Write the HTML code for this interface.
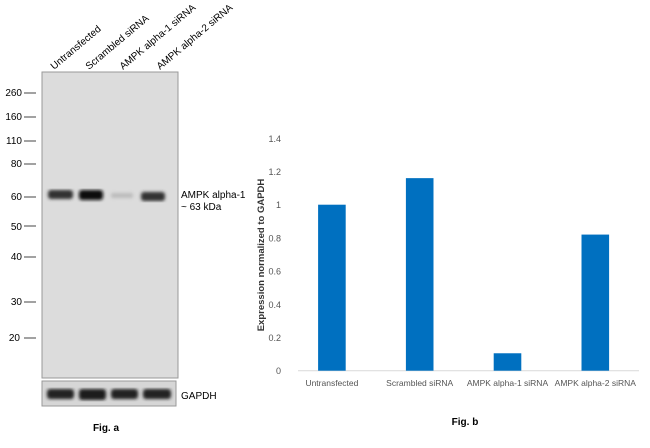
<!DOCTYPE html>
<html><head><meta charset="utf-8"><style>
body{margin:0;width:650px;height:448px;background:#fff;font-family:"Liberation Sans",sans-serif;position:relative;overflow:hidden}
.a{position:absolute}
</style></head><body>
<svg class="a" style="left:0;top:0" width="650" height="448">
<defs>
<filter id="blur"><feGaussianBlur stdDeviation="1.6"/></filter>
</defs>
<g>
<rect x="42" y="72" width="136" height="306" fill="#dcdcdc" stroke="#999" stroke-width="1"/>
<g filter="url(#blur)">
<rect x="48" y="190" width="25" height="9" rx="3" fill="#333"/>
<rect x="79" y="190" width="24" height="10" rx="3" fill="#111"/>
<rect x="111" y="193" width="22" height="5" rx="2" fill="#bbb"/>
<rect x="141" y="192" width="24" height="9" rx="3" fill="#333"/>
</g>
<rect x="42" y="381" width="134" height="25" fill="#d6d6d6" stroke="#999" stroke-width="1"/>
<g filter="url(#blur)">
<rect x="47" y="389" width="27" height="10" rx="3" fill="#222"/>
<rect x="79" y="389" width="27" height="11" rx="3" fill="#1a1a1a"/>
<rect x="111" y="389" width="27" height="10" rx="3" fill="#222"/>
<rect x="143" y="389" width="28" height="10" rx="3" fill="#222"/>
</g>
<g font-size="10" fill="#000" text-anchor="end">
<text x="22" y="96">260</text><line x1="24" y1="93" x2="36" y2="93" stroke="#444"/>
<text x="22" y="120">160</text><line x1="24" y1="117" x2="36" y2="117" stroke="#444"/>
<text x="22" y="144">110</text><line x1="24" y1="141" x2="36" y2="141" stroke="#444"/>
<text x="22" y="167">80</text><line x1="24" y1="164" x2="36" y2="164" stroke="#444"/>
<text x="22" y="200">60</text><line x1="24" y1="197" x2="36" y2="197" stroke="#444"/>
<text x="22" y="230">50</text><line x1="24" y1="226" x2="36" y2="226" stroke="#444"/>
<text x="22" y="260">40</text><line x1="24" y1="257" x2="36" y2="257" stroke="#444"/>
<text x="22" y="305">30</text><line x1="24" y1="302" x2="36" y2="302" stroke="#444"/>
<text x="20" y="341">20</text><line x1="24" y1="338" x2="36" y2="338" stroke="#444"/>
</g>
<g font-size="10" fill="#000">
<text transform="translate(54,70) rotate(-40)">Untransfected</text>
<text transform="translate(89,70) rotate(-40)">Scrambled siRNA</text>
<text transform="translate(123,70) rotate(-40)">AMPK alpha-1 siRNA</text>
<text transform="translate(160,70) rotate(-40)">AMPK alpha-2 siRNA</text>
</g>
<text x="181" y="198" font-size="10">AMPK alpha-1</text>
<text x="181" y="210" font-size="10">~ 63 kDa</text>
<text x="181" y="399" font-size="10">GAPDH</text>
<text x="106" y="431" font-size="10" font-weight="bold" text-anchor="middle">Fig. a</text>
</g>
<g id="chart"></g>
<text x="465" y="425" font-size="10" font-weight="bold" text-anchor="middle">Fig. b</text>
<text transform="translate(264,255) rotate(-90)" font-size="9.5" font-weight="bold" fill="#333" text-anchor="middle">Expression normalized to GAPDH</text>
</svg>
<script>
const categories=["Untransfected","Scrambled siRNA","AMPK alpha-1 siRNA","AMPK alpha-2 siRNA"];
const values=[1.0,1.16,0.105,0.82];
const ticks=[0,0.2,0.4,0.6,0.8,1,1.2,1.4];
const tickLabels=["0","0.2","0.4","0.6","0.8","1","1.2","1.4"];
const NS="http://www.w3.org/2000/svg";
const g=document.getElementById('chart');
const y=v=>370.7-v*(370.7-138.3)/1.4;
const x0=288,bw=87.8;
const xc=i=>x0+bw*(i+0.5);
function mk(t,a){const e=document.createElementNS(NS,t);for(const k in a)e.setAttribute(k,a[k]);g.appendChild(e);return e;}
const ax=mk('line',{x1:298,x2:639,y1:y(0),y2:y(0),stroke:'#d9d9d9'});


ticks.forEach((t,i)=>{const e=mk('text',{x:281,y:y(t)+3.5,'font-size':9,fill:'#555','text-anchor':'end'});e.textContent=tickLabels[i];

});
values.forEach((v,i)=>{const r=mk('rect',{x:xc(i)-13.8,y:y(v),width:27.6,height:y(0)-y(v),fill:'#0070c0'});


const t=mk('text',{x:xc(i),y:386,'font-size':8.5,fill:'#555','text-anchor':'middle'});t.textContent=categories[i];

});
</script>
</body></html>
